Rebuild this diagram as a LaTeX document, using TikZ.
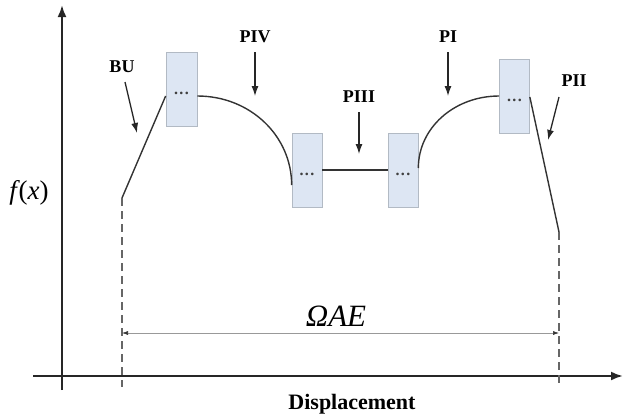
\documentclass[tikz,border=0pt]{standalone}
\usepackage{fontspec}
\setmainfont{Liberation Serif}
\usetikzlibrary{arrows.meta}
\definecolor{boxfill}{RGB}{221,230,243}
\definecolor{boxline}{RGB}{178,186,196}
\begin{document}
\begin{tikzpicture}[x=1pt,y=-1pt,
  axis/.style={line width=2.2pt, draw=black!85, -{Latex[length=12pt,width=9pt]}},
  curve/.style={line width=1.4pt, draw=black!80},
  guide/.style={dashed, dash pattern=on 8pt off 5pt, line width=1.1pt, draw=black!60},
  dim/.style={line width=0.6pt, draw=black!40, {Latex[length=6pt,width=4pt,color=black!80]}-{Latex[length=6pt,width=4pt,color=black!80]}},
  segbox/.style={draw=boxline, line width=0.7pt, fill=boxfill, minimum width=30pt, minimum height=74pt, inner sep=0pt},
  dotsnode/.style={font=\bfseries\fontsize{16}{16}\selectfont, text=black!75, inner sep=0pt},
  lbl/.style={font=\bfseries\fontsize{18}{18}\selectfont, inner sep=0pt},
  pointer/.style={line width=1.3pt, draw=black!85, -{Latex[length=10pt,width=7pt]}}
]
\useasboundingbox (0,0) rectangle (624,418);

% axes
\coordinate (yB) at (62,390);
\coordinate (yT) at (62,5);
\coordinate (xL) at (33,376);
\coordinate (xR) at (623,376);
\draw[axis] (yB) -- (yT);
\draw[axis] (xL) -- (xR);

% boxes
\node[segbox, minimum width=31pt] (b1) at (181.5,89) {};
\node[segbox] (b2) at (307,170) {};
\node[segbox] (b3) at (403,170) {};
\node[segbox] (b4) at (514.5,96) {};
\foreach \b in {b1,b2,b3,b4}
  \node[dotsnode] (\b d) at ([yshift=-4pt]\b.center) {.\kern1.4pt.\kern1.4pt.};

% curve pieces
\coordinate (buS) at (122,198);
\coordinate (piiE) at (559,232);
\draw[curve] (buS) -- ([yshift=-7pt]b1.west);
\draw[curve] ([yshift=-7pt]b1.east) .. controls +(53,0) and +(0,-49) .. ([yshift=-15pt]b2.west);
\draw[curve] (b2.east) -- (b3.west);
\draw[curve] ([yshift=2pt]b3.east) .. controls +(0,-40) and +(-45,0) .. (b4.west);
\draw[curve] ([yshift=-1pt]b4.east) -- (piiE);

% dashed guides
\coordinate (buB) at (122,387);
\coordinate (piiB) at (559,387);
\draw[guide] (buS) -- (buB);
\draw[guide] (piiE) -- (piiB);

% dimension
\coordinate (dL) at (122,333);
\coordinate (dR) at (559,333);
\draw[dim] (dL) -- (dR);
\node[font=\itshape\fontsize{31}{31}\selectfont] (omega) at (336,316) {ΩAE};

% axis labels
\node[font=\bfseries\fontsize{22}{22}\selectfont] (disp) at (352,404) {Displacement};
\node[font=\fontsize{27}{27}\selectfont] (fx) at (29,193) {\textit{f}\kern-1.5pt(\textit{x})};

% phase labels
\node[lbl] (bu) at (122,67) {BU};
\node[lbl] (piv) at (255,37) {PIV};
\node[lbl] (piii) at (359,97) {PIII};
\node[lbl] (pi) at (448,37) {PI};
\node[lbl] (pii) at (574,81) {PII};

\coordinate (buA) at (125,82);   \coordinate (buZ) at (137,133);
\coordinate (pivA) at (255,52);  \coordinate (pivZ) at (255,96);
\coordinate (piiiA) at (359,112);\coordinate (piiiZ) at (359,154);
\coordinate (piA) at (448,52);   \coordinate (piZ) at (448,96);
\coordinate (piiA) at (559,97);  \coordinate (piiZ) at (548,140);
\draw[pointer] (buA) -- (buZ);
\draw[pointer] (pivA) -- (pivZ);
\draw[pointer] (piiiA) -- (piiiZ);
\draw[pointer] (piA) -- (piZ);
\draw[pointer] (piiA) -- (piiZ);
\end{tikzpicture}
\end{document}
